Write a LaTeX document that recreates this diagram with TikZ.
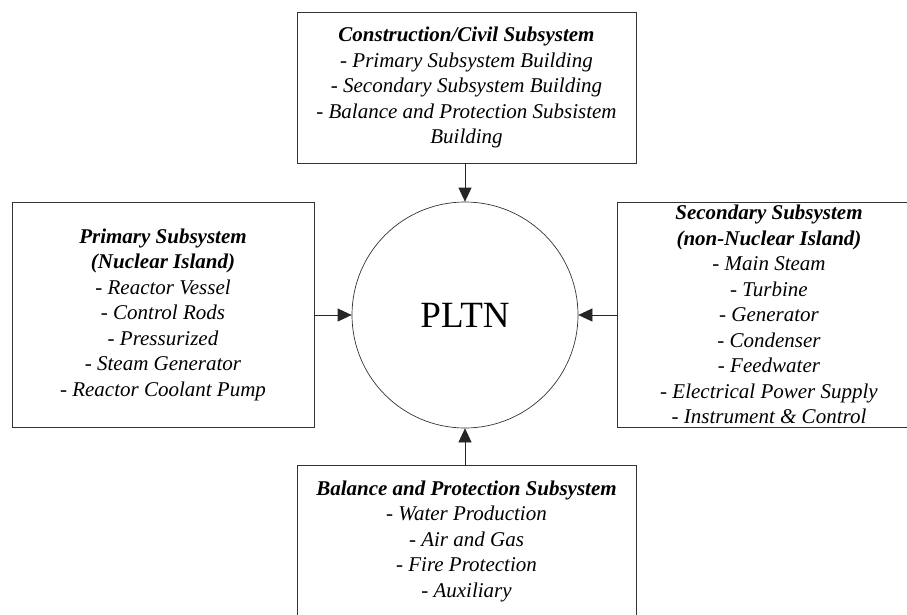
\documentclass[tikz,border=0pt]{standalone}
\usepackage{fontspec}
\setmainfont{Liberation Serif}
\usetikzlibrary{arrows.meta}
\tikzset{
  box/.style={draw=black!80, line width=0.7pt, rectangle, align=center, inner sep=0pt,
    font=\fontsize{21}{25.5}\selectfont\itshape},
  hub/.style={draw=black!80, line width=0.7pt, circle, minimum size=226pt, inner sep=0pt,
    font=\fontsize{37}{40}\selectfont},
  link/.style={line width=0.7pt, draw=black!85, -{Triangle[length=14pt,width=13pt]}}
}
\begin{document}
\begin{tikzpicture}[x=1pt,y=-1pt]
\useasboundingbox (0,0) rectangle (907,615);
\clip (0,0) rectangle (907,615);
\fill[white] (0,0) rectangle (907,615);
\node[hub] (c) at (465,315) {PLTN};
\node[box, minimum width=339pt, minimum height=151pt] (top) at (466.5,87.5)
  {\textbf{Construction/Civil Subsystem}\\
   - Primary Subsystem Building\\
   - Secondary Subsystem Building\\
   - Balance and Protection Subsistem\\
   Building};
\node[box, minimum width=302pt, minimum height=225pt] (left) at (163,314.5)
  {\textbf{Primary Subsystem}\\
   \textbf{(Nuclear Island)}\\
   - Reactor Vessel\\
   - Control Rods\\
   - Pressurized\\
   - Steam Generator\\
   - Reactor Coolant Pump};
\node[box, minimum width=304pt, minimum height=225pt] (right) at (769,314.5)
  {\textbf{Secondary Subsystem}\\
   \textbf{(non-Nuclear Island)}\\
   - Main Steam\\
   - Turbine\\
   - Generator\\
   - Condenser\\
   - Feedwater\\
   - Electrical Power Supply\\
   - Instrument \& Control};
\node[box, minimum width=339pt, minimum height=152pt] (bot) at (466.5,541)
  {\textbf{Balance and Protection Subsystem}\\
   - Water Production\\
   - Air and Gas\\
   - Fire Protection\\
   - Auxiliary};
\draw[link] (c.north |- top.south) -- (c.north);
\draw[link] (left.east |- c.west) -- (c.west);
\draw[link] (right.west |- c.east) -- (c.east);
\draw[link] (c.south |- bot.north) -- (c.south);
\end{tikzpicture}
\end{document}
